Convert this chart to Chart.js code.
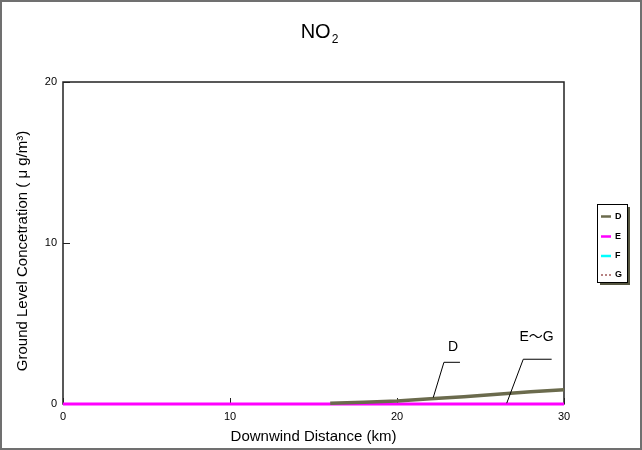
<!DOCTYPE html>
<html>
<head>
<meta charset="utf-8">
<script src="https://cdn.jsdelivr.net/npm/chart.js@4.4.1/dist/chart.umd.min.js"></script>
<style>
  html, body { margin: 0; padding: 0; background: #fff; }
  #wrap { width: 642px; height: 450px; position: relative; }
</style>
</head>
<body>
<div id="wrap"><canvas id="no2-chart" width="642" height="450"></canvas></div>
<script>
// distance (km) and concentration per stability class
const distance = [0, 2, 4, 6, 8, 10, 12, 14, 16, 18, 20, 22, 24, 26, 28, 30];
const classD = [null, null, null, null, null, null, null, null, 0.05, 0.11, 0.18, 0.32, 0.45, 0.6, 0.76, 0.88];
const classE = [0, 0, 0, 0, 0, 0, 0, 0, 0, 0, 0, 0, 0, 0, 0, 0];
const classF = [0, 0, 0, 0, 0, 0, 0, 0, 0, 0, 0, 0, 0, 0, 0, 0];
const classG = [0, 0, 0, 0, 0, 0, 0, 0, 0, 0, 0, 0, 0, 0, 0, 0];
const seriesNames = ['D', 'E', 'F', 'G'];
const xTicks = [0, 10, 20, 30];
const yTicks = [0, 10, 20];

const colors = ['#6b6b4d', '#ff00ff', '#00ffff', '#a05a5a'];
const FONT = '"Liberation Sans", Arial, "Noto Sans CJK JP", sans-serif';
const yTitle = 'Ground Level Concetration ( μ g/m³)';

function toPoints(values) {
    return distance.map((d, i) => ({ x: d, y: values[i] }));
}

// leader lines for the in-plot labels, in data units
const callouts = [
    { text: 'D', label: [23.35, 3.56], path: [[22.17, 0.4], [22.81, 2.59], [23.77, 2.59]] },
    { text: 'E～G', label: [28.36, 4.14], path: [[26.57, 0.05], [27.56, 2.78], [29.26, 2.78]] }
];

const decorPlugin = {
    id: 'decor',
    beforeDatasetsDraw(chart) {
        const ctx = chart.ctx;
        const { left, right, top, bottom } = chart.chartArea;
        const xs = chart.scales.x, ys = chart.scales.y;
        ctx.save();
        // outer frame
        ctx.strokeStyle = '#707070';
        ctx.lineWidth = 2;
        ctx.strokeRect(1, 1, chart.width - 2, chart.height - 2);

        // plot box
        ctx.strokeStyle = '#222';
        ctx.lineWidth = 1.5;
        ctx.strokeRect(left, top, right - left, bottom - top);

        // inward ticks
        ctx.lineWidth = 1;
        yTicks.forEach(v => {
            const y = Math.round(ys.getPixelForValue(v)) + 0.5;
            ctx.beginPath(); ctx.moveTo(left, y); ctx.lineTo(left + 7, y); ctx.stroke();
        });
        xTicks.forEach(v => {
            const x = Math.round(xs.getPixelForValue(v)) + 0.5;
            ctx.beginPath(); ctx.moveTo(x, bottom); ctx.lineTo(x, bottom - 6); ctx.stroke();
        });

        // y axis title
        ctx.fillStyle = '#000';
        ctx.font = '15px ' + FONT;
        ctx.textAlign = 'center';
        ctx.textBaseline = 'middle';
        ctx.translate(23, 251);
        ctx.rotate(-Math.PI / 2);
        ctx.fillText(yTitle, 0, 0);
        ctx.restore();
    },
    afterDraw(chart) {
        const ctx = chart.ctx;
        const xs = chart.scales.x, ys = chart.scales.y;
        ctx.save();

        // title NO2
        ctx.fillStyle = '#000';
        ctx.textBaseline = 'alphabetic';
        ctx.textAlign = 'left';
        ctx.font = '20px ' + FONT;
        const w1 = ctx.measureText('NO').width;
        ctx.font = '12px ' + FONT;
        const w2 = ctx.measureText('2').width;
        const tx = 319 - (w1 + w2) / 2;
        ctx.font = '20px ' + FONT;
        ctx.fillText('NO', tx, 38);
        ctx.font = '12px ' + FONT;
        ctx.fillText('2', tx + w1 + 1, 43);

        // callouts
        ctx.strokeStyle = '#000';
        ctx.lineWidth = 1;
        ctx.font = '14px ' + FONT;
        ctx.textAlign = 'center';
        ctx.textBaseline = 'middle';
        callouts.forEach(c => {
            ctx.beginPath();
            c.path.forEach((p, i) => {
                const px = xs.getPixelForValue(p[0]);
                const py = ys.getPixelForValue(p[1]);
                if (i === 0) ctx.moveTo(px, py); else ctx.lineTo(px, py);
            });
            ctx.stroke();
            ctx.fillText(c.text, xs.getPixelForValue(c.label[0]), ys.getPixelForValue(c.label[1]));
        });

        // legend box with shadow
        const bx = 597, by = 204, bw = 30, bh = 78;
        ctx.fillStyle = '#55553f';
        ctx.fillRect(bx + 3, by + 3, bw, bh);
        ctx.fillStyle = '#fff';
        ctx.fillRect(bx, by, bw, bh);
        ctx.strokeStyle = '#000';
        ctx.strokeRect(bx + 0.5, by + 0.5, bw, bh);
        const rowY = [216.5, 236.5, 256, 275];
        ctx.font = 'bold 9px ' + FONT;
        ctx.textAlign = 'left';
        chart.data.datasets.forEach((ds, i) => {
            const y = rowY[i];
            ctx.strokeStyle = ds.borderColor;
            ctx.lineWidth = i === 3 ? 1.5 : 2.5;
            ctx.setLineDash(i === 3 ? [2, 2] : []);
            ctx.beginPath(); ctx.moveTo(601, y); ctx.lineTo(611, y); ctx.stroke();
            ctx.setLineDash([]);
            ctx.fillStyle = '#000';
            ctx.fillText(seriesNames[i], 615, y);
        });
        ctx.restore();
    }
};

const ctx = document.getElementById('no2-chart').getContext('2d');
const noGrid = { display: false, drawTicks: false };

new Chart(ctx, {
    type: 'line',
    data: {
        datasets: [
            { label: seriesNames[0], data: toPoints(classD), borderColor: colors[0], borderWidth: 3.5, order: 0 },
            { label: seriesNames[1], data: toPoints(classE), borderColor: colors[1], borderWidth: 3, order: 1 },
            { label: seriesNames[2], data: toPoints(classF), borderColor: colors[2], borderWidth: 2, order: 2 },
            { label: seriesNames[3], data: toPoints(classG), borderColor: colors[3], borderWidth: 1.5, borderDash: [3, 3], order: 3 }
        ]
    },
    options: {
        responsive: false,
        animation: false,
        devicePixelRatio: 1,
        layout: { padding: { left: 0, top: 82, right: 78, bottom: 0 } },
        elements: { point: { radius: 0 }, line: { tension: 0 } },
        datasets: { line: { clip: false, spanGaps: false } },
        plugins: {
            legend: { display: false },
            title: { display: false },
            tooltip: { enabled: false }
        },
        scales: {
            x: {
                type: 'linear',
                min: 0,
                max: 30,
                grid: noGrid,
                border: { display: false },
                afterBuildTicks: s => { s.ticks = xTicks.map(v => ({ value: v })); },
                afterFit: s => { s.height = 46; },
                ticks: { color: '#000', font: { family: FONT, size: 11 }, padding: 6, maxRotation: 0 },
                title: { display: true, text: 'Downwind Distance (km)', color: '#000', font: { family: FONT, size: 15 }, padding: { top: 0, bottom: 4 } }
            },
            y: {
                min: 0,
                max: 20,
                grid: noGrid,
                border: { display: false },
                afterBuildTicks: s => { s.ticks = yTicks.map(v => ({ value: v })); },
                afterFit: s => { s.width = 63; },
                ticks: { color: '#000', font: { family: FONT, size: 11 }, padding: 6 },
                title: { display: false }
            }
        }
    },
    plugins: [decorPlugin]
});
</script>
</body>
</html>
